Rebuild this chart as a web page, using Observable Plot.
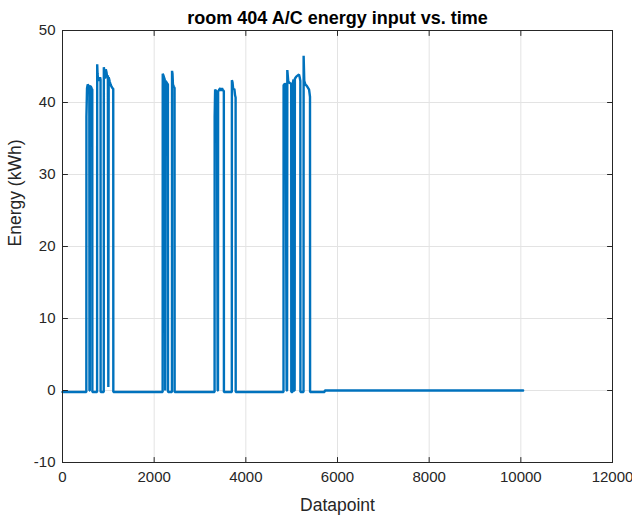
<!DOCTYPE html>
<html>
<head>
<meta charset="utf-8">
<script src="https://cdn.jsdelivr.net/npm/d3@7"></script>
<script src="https://cdn.jsdelivr.net/npm/@observablehq/plot@0.6"></script>
<style>
  html, body { margin: 0; padding: 0; background: #fff; }
</style>
</head>
<body>
<div id="chart"></div>
<script>
const titleText = "room 404 A/C energy input vs. time";
const xLabel = "Datapoint";
const yLabel = "Energy (kWh)";
const xTicks = [0, 2000, 4000, 6000, 8000, 10000, 12000];
const yTicks = [-10, 0, 10, 20, 30, 40, 50];

// polyline vertices
const datapoint = [
  0, 520, 522, 535, 550, 570, 585, 588, 596, 598, 620, 640, 650, 652,
  755, 757, 765, 775, 790, 805, 820, 830, 832,
  900, 902, 915, 930, 945, 960, 975, 990, 1000, 1008, 1030, 1050, 1070, 1090, 1107, 1109,
  2185, 2187, 2200, 2215, 2230, 2240, 2250, 2270, 2290, 2300, 2302,
  2388, 2390, 2400, 2410, 2430, 2445, 2447,
  3318, 3320, 3330, 3350, 3370, 3385, 3392, 3395, 3420, 3440, 3460, 3480, 3500, 3520, 3522,
  3694, 3696, 3710, 3725, 3750, 3765, 3777, 3779,
  4822, 4824, 4850, 4870, 4890, 4900, 4905, 4925, 4940, 4960, 4990, 4992,
  5019, 5021, 5040, 5055, 5065, 5070, 5100, 5140, 5160, 5175, 5189, 5191,
  5259, 5261, 5275, 5300, 5330, 5360, 5380, 5400, 5402,
  5720, 5722, 10050
];
const energy = [
  -0.2, -0.2, 38, 42.0, 42.5, 42.3, 42.2, 0, 0, 42.3, 42.2, 41.9, 41.8, -0.2,
  -0.2, 45.3, 44.0, 43.3, 43.4, 43.0, 43.5, 43.2, -0.2,
  -0.2, 44.9, 44.2, 43.3, 44.6, 44.2, 43.5, 43.8, 0.5, 43.5, 42.9, 42.5, 42.2, 42.0, 41.9, -0.2,
  -0.2, 44.0, 43.8, 43.5, 43.2, 0, 43.0, 42.8, 42.6, 42.5, -0.2,
  -0.2, 44.4, 44.0, 42.5, 42.2, 42.0, -0.2,
  -0.2, 38, 41.8, 41.6, 41.5, 0, 0, 41.5, 41.8, 42.0, 41.6, 42.0, 41.7, 41.6, -0.2,
  -0.2, 43.1, 42.8, 41.8, 41.9, 41.0, 40.7, -0.2,
  -0.2, 42.4, 42.6, 42.5, 0, 0, 44.5, 43.0, 42.8, 42.7, 42.6, -0.2,
  -0.2, 42.5, 43.2, 0, 0, 43.3, 43.6, 43.8, 43.9, 43.5, 43.0, -0.2,
  -0.2, 46.5, 43.0, 42.5, 42.3, 42.0, 41.8, 40.8, -0.2,
  -0.2, 0, 0
];
const series = datapoint.map((x, i) => ({x, y: energy[i]}));

const axisColor = "#262626";
const gridColor = "#e3e3e3";
const tickShape = {draw(context, l) { context.moveTo(0, 0); context.lineTo(0, -l); }};
const tickOpts = {length: 5, anchor: "start", shape: tickShape, stroke: axisColor, strokeWidth: 1};

const chart = Plot.plot({
  width: 632,
  height: 515,
  marginLeft: 62,
  marginRight: 20,
  marginTop: 30,
  marginBottom: 53,
  x: {domain: [0, 12000]},
  y: {domain: [-10, 50]},
  style: {fontFamily: "'Liberation Sans', Arial, sans-serif", fontSize: "15px", color: axisColor, background: "#fff"},
  marks: [
    Plot.gridX(xTicks, {stroke: gridColor, strokeOpacity: 1}),
    Plot.gridY(yTicks, {stroke: gridColor, strokeOpacity: 1}),
    Plot.line(series, {x: "x", y: "y", stroke: "#0072BD", strokeWidth: 2.4, strokeLinejoin: "miter"}),
    Plot.frame({stroke: axisColor, strokeWidth: 1}),
    Plot.vector(xTicks, {x: d => d, frameAnchor: "bottom", rotate: 0, ...tickOpts}),
    Plot.vector(xTicks, {x: d => d, frameAnchor: "top", rotate: 180, ...tickOpts}),
    Plot.vector(yTicks, {y: d => d, frameAnchor: "left", rotate: 90, ...tickOpts}),
    Plot.vector(yTicks, {y: d => d, frameAnchor: "right", rotate: -90, ...tickOpts}),
    Plot.axisX(xTicks, {tickSize: 0, tickPadding: 9, label: null, fontSize: 15, tickFormat: d => String(d)}),
    Plot.axisY(yTicks, {tickSize: 0, tickPadding: 7, label: null, fontSize: 15, tickFormat: d => String(d)}),
    Plot.text([titleText], {frameAnchor: "top", dy: -19, fontWeight: "bold", fontSize: 18, fill: "#000"}),
    Plot.text([xLabel], {frameAnchor: "bottom", dy: 48, fontSize: 17.5, fill: axisColor}),
    Plot.text([yLabel], {frameAnchor: "left", dx: -47, rotate: -90, fontSize: 17.5, fill: axisColor})
  ]
});
document.getElementById("chart").append(chart);
</script>
</body>
</html>
